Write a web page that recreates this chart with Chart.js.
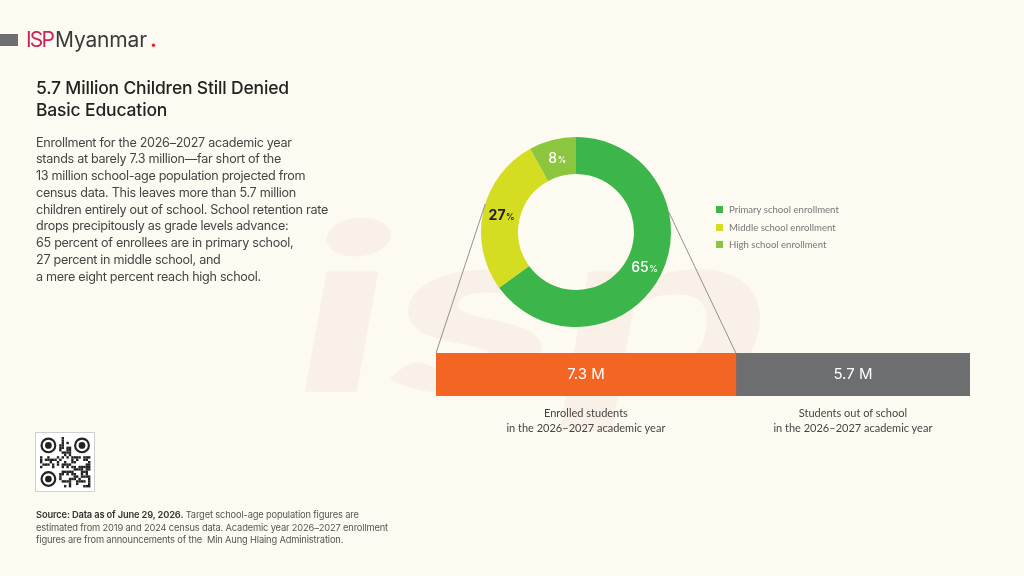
<!DOCTYPE html>
<html><head><meta charset="utf-8">
<script src="https://cdn.jsdelivr.net/npm/chart.js@4"></script>
<style>
html,body{margin:0;padding:0}
body{width:1024px;height:576px;background:#fdfbf1;overflow:hidden;font-family:Inter,Lato,sans-serif;position:relative;color:#333}
.abs{position:absolute}
#wm{left:0;top:0;width:1024px;height:576px}
#logoBar{left:0;top:34px;width:18px;height:12px;background:#6d6e70}
#logo{left:26px;top:27px;font-size:21px;line-height:26px;white-space:nowrap}
#title{left:36px;top:77px;font-size:17.5px;line-height:21.5px;font-weight:500;color:#222;white-space:nowrap}
#para{left:36px;top:134.5px;font-size:12.6px;line-height:16.8px;color:#444;white-space:nowrap}
#legend{left:716px;top:201px;font-size:9.6px;color:#777;line-height:17.5px;font-family:Lato,sans-serif}
#legend .it{display:flex;align-items:center;white-space:nowrap}
#legend .sw{width:7px;height:7px;margin-right:6px;flex:none}
.cap{top:405px;font-size:11px;line-height:15px;color:#444;text-align:center;white-space:nowrap;transform:translateX(-50%);font-family:Lato,sans-serif}
#qr{left:35px;top:432px;width:60px;height:60px;border:1px solid #cfcfcf;box-sizing:border-box;background:#fff}
#src{left:36px;top:509px;font-size:9.3px;line-height:12.5px;color:#555;white-space:nowrap}
#src b{color:#333;font-weight:600}
canvas{position:absolute}
#lines{position:absolute;left:0;top:0;width:1024px;height:576px;pointer-events:none}
</style></head>
<body>
<canvas id="wm" width="1024" height="576"></canvas>
<div id="logoBar" class="abs"></div>
<div id="logo" class="abs"><span id="lg1" style="color:#c9245d">ISP</span><span id="lg2" style="color:#3a3a3a;margin-left:2px">Myanmar</span><span style="color:#e2262c;font-weight:700;margin-left:3px">.</span></div>
<div id="title" class="abs">5.7 Million Children Still Denied<br>Basic Education</div>
<div id="para" class="abs">Enrollment for the 2026–2027 academic year<br>stands at barely 7.3 million—far short of the<br>13 million school-age population projected from<br>census data. This leaves more than 5.7 million<br>children entirely out of school. School retention rate<br>drops precipitously as grade levels advance:<br>65 percent of enrollees are in primary school,<br>27 percent in middle school, and<br>a mere eight percent reach high school.</div>
<canvas id="donut" width="200" height="200" style="left:476px;top:132px;width:200px;height:200px"></canvas>
<div id="legend" class="abs"></div>
<canvas id="bar" width="534" height="43" style="left:436px;top:353px;width:534px;height:43px"></canvas>
<svg id="lines"></svg>
<div id="cap0" class="abs cap"></div>
<div id="cap1" class="abs cap"></div>
<canvas id="qr" width="58" height="58"></canvas>
<div id="src" class="abs"><b>Source: Data as of June 29, 2026.</b> Target school-age population figures are<br>estimated from 2019 and 2024 census data. Academic year 2026–2027 enrollment<br>figures are from announcements of the&nbsp; Min Aung Hlaing Administration.</div>
<script>
// ---- data ----
const levelLabels = ['Primary school enrollment','Middle school enrollment','High school enrollment'];
const levelShares = [65, 27, 8];
const levelColors = ['#3cb54a', '#d4dd22', '#8cc63f'];
const levelLabelColors = ['#ffffff', '#222222', '#ffffff'];

const studentLabels = ['Enrolled students', 'Students out of school'];
const studentCounts = [7.3, 5.7];
const studentColors = ['#f26522', '#6d6e70'];
const studentYear = 'in the 2026–2027 academic year';
const populationTotal = 13;

const FONT = 'Inter, Lato, sans-serif';

// fit letter-spacing of a block so that a reference line gets a target width
function fit(id, line, target) {
  const el = document.getElementById(id);
  const cs = getComputedStyle(el);
  const g = document.createElement('canvas').getContext('2d');
  g.font = cs.fontWeight + ' ' + cs.fontSize + ' ' + cs.fontFamily;
  const w = g.measureText(line).width;
  el.style.letterSpacing = ((target - w) / line.length) + 'px';
}
fit('title', '5.7 Million Children Still Denied', 253);
fit('para', 'children entirely out of school. School retention rate', 292);
fit('src', 'estimated from 2019 and 2024 census data. Academic year 2026–2027 enrollment', 352);
fit('lg1', 'ISP', 27);
fit('lg2', 'Myanmar', 92);

// faint watermark (background decoration)
(function () {
  const g = document.getElementById('wm').getContext('2d');
  g.fillStyle = '#f9f0e7';
  g.save();
  g.translate(282, 392);
  g.transform(1, 0, -0.18, 1, 0, 0);
  g.font = '900 300px Lato, sans-serif';
  g.scale(1.25, 0.78);
  g.fillText('isp', 0, 0);
  g.restore();
})();

// legend
const lg = document.getElementById('legend');
levelLabels.forEach((l, i) => {
  const d = document.createElement('div'); d.className = 'it';
  d.innerHTML = '<span class="sw" style="background:' + levelColors[i] + '"></span>' + l;
  lg.appendChild(d);
});

const donutLabels = {
  id: 'donutLabels',
  afterDatasetsDraw(chart) {
    const ctx = chart.ctx;
    const meta = chart.getDatasetMeta(0);
    meta.data.forEach((arc, i) => {
      const p = arc.tooltipPosition();
      const num = String(levelShares[i]);
      const bold = i === 1;
      ctx.save();
      ctx.fillStyle = levelLabelColors[i];
      ctx.textBaseline = 'alphabetic';
      const f1 = (bold ? '700 ' : '500 ') + '14px ' + FONT;
      const f2 = (bold ? '600 ' : '500 ') + '8.5px ' + FONT;
      ctx.font = f1; const w1 = ctx.measureText(num).width;
      ctx.font = f2; const w2 = ctx.measureText('%').width;
      const x0 = p.x - (w1 + w2) / 2;
      ctx.font = f1; ctx.fillText(num, x0, p.y + 5);
      ctx.font = f2; ctx.fillText('%', x0 + w1 + 0.5, p.y + 5);
      ctx.restore();
    });
  }
};

const donut = new Chart(document.getElementById('donut'), {
  type: 'doughnut',
  data: { labels: levelLabels, datasets: [{ data: levelShares, backgroundColor: levelColors, borderWidth: 0 }] },
  options: {
    responsive: false, animation: false, cutout: '61%',
    layout: { padding: 5 },
    plugins: { legend: { display: false }, tooltip: { enabled: false } }
  },
  plugins: [donutLabels]
});

const barLabels = {
  id: 'barLabels',
  afterDatasetsDraw(chart) {
    const ctx = chart.ctx;
    chart.data.datasets.forEach((ds, i) => {
      const el = chart.getDatasetMeta(i).data[0];
      const cx = (el.x + el.base) / 2;
      ctx.save();
      ctx.fillStyle = '#ffffff';
      ctx.font = '400 15px ' + FONT;
      ctx.textAlign = 'center'; ctx.textBaseline = 'middle';
      ctx.fillText(ds.data[0] + ' M', cx, el.y);
      ctx.restore();
    });
  }
};

const bar = new Chart(document.getElementById('bar'), {
  type: 'bar',
  data: {
    labels: ['Students'],
    datasets: studentLabels.map((l, i) => ({ label: l, data: [studentCounts[i]], backgroundColor: studentColors[i], borderWidth: 0, barPercentage: 1, categoryPercentage: 1 }))
  },
  options: {
    indexAxis: 'y', responsive: false, animation: false,
    layout: { padding: 0 },
    scales: {
      x: { stacked: true, min: 0, max: populationTotal, display: false },
      y: { stacked: true, display: false }
    },
    plugins: { legend: { display: false }, tooltip: { enabled: false } }
  },
  plugins: [barLabels]
});

// captions and connector lines from chart geometry
(function () {
  const bc = document.getElementById('bar');
  const bl = parseFloat(bc.style.left), bt = parseFloat(bc.style.top);
  studentLabels.forEach((l, i) => {
    const el = bar.getDatasetMeta(i).data[0];
    const c = document.getElementById('cap' + i);
    c.style.left = (bl + (el.x + el.base) / 2) + 'px';
    c.innerHTML = l + '<br>' + studentYear;
  });
  const dc = document.getElementById('donut');
  const dl = parseFloat(dc.style.left), dt = parseFloat(dc.style.top);
  const arc = donut.getDatasetMeta(0).data[0];
  const R = arc.outerRadius;
  const cx = dl + arc.x, cy = dt + arc.y;
  const aL = Math.PI + 0.30, aR = -0.21;
  const e0 = bar.getDatasetMeta(0).data[0];
  const top = bt + bar.chartArea.top;
  const pts = [
    [cx + R * Math.cos(aL), cy + R * Math.sin(aL), bl + e0.base, top],
    [cx + R * Math.cos(aR), cy + R * Math.sin(aR), bl + e0.x, top]
  ];
  const svg = document.getElementById('lines');
  svg.innerHTML = pts.map(p => '<line x1="' + p[0] + '" y1="' + p[1] + '" x2="' + p[2] + '" y2="' + p[3] + '" stroke="#777" stroke-width="0.8"/>').join('');
})();

// decorative QR-like mark
(function () {
  const c = document.getElementById('qr'), g = c.getContext('2d');
  const n = 21, m = 2.4, off = 4;
  g.fillStyle = '#222';
  let s = 12345;
  const rnd = () => { s = (s * 1103515245 + 12345) % 2147483648; return s / 2147483648; };
  for (let r = 0; r < n; r++) for (let q = 0; q < n; q++) {
    const inF = (r < 8 && q < 8) || (r < 8 && q > 12) || (r > 12 && q < 8);
    if (inF) continue;
    if (rnd() < 0.5) g.fillRect(off + q * m, off + r * m, m, m);
  }
  [[0, 0], [0, 14], [14, 0]].forEach(([r, q]) => {
    const x = off + q * m, y = off + r * m;
    g.beginPath(); g.arc(x + 3.5 * m, y + 3.5 * m, 3.3 * m, 0, 2 * Math.PI); g.fill();
    g.fillStyle = '#fff'; g.beginPath(); g.arc(x + 3.5 * m, y + 3.5 * m, 2.4 * m, 0, 2 * Math.PI); g.fill();
    g.fillStyle = '#222'; g.beginPath(); g.arc(x + 3.5 * m, y + 3.5 * m, 1.4 * m, 0, 2 * Math.PI); g.fill();
  });
})();
</script>
</body></html>
